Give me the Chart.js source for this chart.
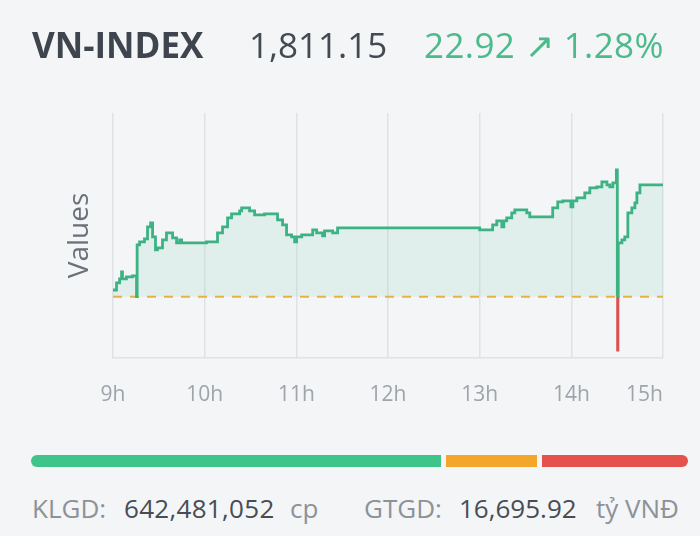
<!DOCTYPE html>
<html>
<head>
<meta charset="utf-8">
<script src="https://cdn.jsdelivr.net/npm/chart.js@4.4.1/dist/chart.umd.min.js"></script>
<style>
  html, body { margin: 0; padding: 0; }
  body { width: 700px; height: 536px; background: #f3f5f7; position: relative; overflow: hidden; font-family: "Open Sans", sans-serif; }
  #chart-wrap { position: absolute; left: 0; top: 0; width: 700px; height: 420px; }
  .t { position: absolute; white-space: nowrap; }
  .head { top: 20px; font-size: 35px; line-height: 50px; }
  .foot { top: 489px; font-size: 26px; line-height: 38px; }
  .gray { color: #8c9298; }
  .dark { color: #474d55; }
  #bar { position: absolute; left: 31px; top: 455px; width: 657px; height: 12px; display: flex; gap: 5px; }
  #bar div { height: 100%; }
</style>
</head>
<body>
<div id="chart-wrap"><canvas id="chart-1"></canvas></div>

<div class="t head" id="name" style="left:32px; font-weight:700; color:#3f454e;">VN-INDEX</div>
<div class="t head" id="last" style="left:249px; color:#444a53;"></div>
<div class="t head" id="chg" style="left:424px; color:#4dba8b; letter-spacing:0.4px;"></div>

<div id="bar"></div>

<div class="t foot gray" style="left:32px;">KLGD:</div>
<div class="t foot dark" id="vol" style="left:124px; letter-spacing:0.3px;"></div>
<div class="t foot gray" style="left:290px;">cp</div>
<div class="t foot gray" style="left:364px;">GTGD:</div>
<div class="t foot dark" id="val" style="left:459px;"></div>
<div class="t foot gray" style="left:596px;">tỷ VNĐ</div>

<script>
// minutes after 9:00
const minutes = [0, 2.3, 4.3, 5.6, 6.2, 8.8, 12.8, 15.4, 15.8, 17.4,
  20.6, 22.6, 24.6, 25.9, 27.8, 29.1, 32.4, 35.0, 39.0, 41.6,
  43.6, 44.9, 61.2, 68.4, 71.7, 75.0, 77.6, 82.9, 84.2, 89.4,
  92.7, 99.2, 107.7, 111.0, 113.6, 116.9, 118.9, 120.2, 123.5, 130.7,
  133.3, 137.2, 138.5, 143.8, 147.0, 240, 248.5, 251.2, 254.5, 255.8,
  257.7, 261.0, 263.0, 270.8, 272.8, 287.8, 291.1, 294.4, 299.7, 301.0,
  303.6, 308.8, 312.1, 316.7, 320.0, 323.3, 325.2, 327.2, 329.5, 330.1,
  330.3, 330.5, 330.7, 333.1, 335.0, 337.0, 339.6, 341.6, 342.9, 344.9, 360];
const values = [1789.60, 1791.04, 1791.86, 1793.30, 1791.86, 1792.27, 1792.48, 1788.23, 1798.84, 1799.45,
  1800.07, 1802.53, 1803.35, 1800.48, 1797.81, 1798.22, 1799.86, 1801.30, 1800.28, 1799.25,
  1799.86, 1799.25, 1799.45, 1801.30, 1802.53, 1804.38, 1805.20, 1805.82, 1806.43, 1805.82,
  1804.99, 1805.20, 1803.97, 1802.94, 1800.89, 1800.48, 1799.45, 1800.48, 1800.89, 1801.92,
  1801.30, 1800.69, 1801.71, 1801.30, 1802.33, 1801.92, 1802.94, 1803.76, 1802.53, 1803.76,
  1804.38, 1805.41, 1806.02, 1805.41, 1804.58, 1806.43, 1807.66, 1807.87, 1806.64, 1807.87,
  1808.48, 1809.51, 1810.54, 1810.74, 1811.77, 1811.15, 1810.74, 1811.56, 1814.23, 1788.23,
  1777.29, 1788.23, 1799.25, 1799.86, 1800.48, 1805.41, 1806.43, 1807.46, 1809.51, 1811.15, 1811.15];
const hourLabels = ['9h', '10h', '11h', '12h', '13h', '14h', '15h'];
const prevClose = 1788.23;
const lastIndex = 1811.15;
const change = 22.92;
const changePct = 1.28;
const volume = 642481052;
const turnover = 16695.92;
const breadth = [255, 56, 91]; // up, unchanged, down

const green = '#3db383';
const red = '#d9534f';

const fmt2 = n => n.toLocaleString('en-US', { minimumFractionDigits: 2, maximumFractionDigits: 2 });
document.getElementById('last').textContent = fmt2(lastIndex);
document.getElementById('chg').textContent = fmt2(change) + ' \u2197 ' + fmt2(changePct) + '%';
document.getElementById('vol').textContent = volume.toLocaleString('en-US');
document.getElementById('val').textContent = fmt2(turnover);

const barColors = ['#3fc48a', '#f4a62a', '#e4524b'];
const bar = document.getElementById('bar');
breadth.forEach((b, i) => {
  const d = document.createElement('div');
  d.style.flex = b + ' 1 0';
  d.style.background = barColors[i];
  if (i === 0) d.style.borderRadius = '6px 0 0 6px';
  if (i === breadth.length - 1) d.style.borderRadius = '0 6px 6px 0';
  bar.appendChild(d);
});

// last hour label sits right-aligned on the plot edge, as in the original widget
const lastTickRight = {
  id: 'lastTickRight',
  beforeDraw(chart) {
    const items = chart.scales.x.getLabelItems();
    const last = items[items.length - 1];
    if (last) {
      last.options.textAlign = 'right';
      last.options.translation[0] = chart.chartArea.right;
    }
  }
};

const ctx = document.getElementById('chart-1');

new Chart(ctx, {
  type: 'line',
  data: {
    datasets: [{
      label: 'VN-INDEX',
      data: minutes.map((m, i) => ({ x: m, y: values[i] })),
      stepped: true,
      borderWidth: 2.8,
      borderColor: green,
      pointRadius: 0,
      fill: { target: { value: prevClose }, above: 'rgba(70,195,145,0.11)', below: 'rgba(220,80,80,0.08)' },
      segment: {
        borderColor: c => (c.p0.parsed.y < prevClose - 0.01 || c.p1.parsed.y < prevClose - 0.01) ? red : green
      },
      order: 1
    }, {
      label: 'Ref',
      data: [{ x: minutes[0], y: prevClose }, { x: minutes[minutes.length - 1], y: prevClose }],
      borderColor: '#f0b43c',
      borderWidth: 2,
      borderDash: [9, 8],
      pointRadius: 0,
      fill: false,
      order: 2
    }]
  },
  options: {
    responsive: true,
    maintainAspectRatio: false,
    animation: false,
    layout: { padding: { top: 113, right: 37, left: 0, bottom: 0 } },
    plugins: { legend: { display: false }, tooltip: { enabled: false } },
    scales: {
      x: {
        type: 'linear',
        min: 0,
        max: 360,
        afterFit: s => { s.height = 62; s.paddingLeft = 0; s.paddingRight = 0; },
        ticks: {
          stepSize: 60,
          padding: 24,
          color: '#9fa4aa',
          font: { family: 'Open Sans', size: 21 },
          callback: (v, i) => hourLabels[i]
        },
        grid: { color: '#dfe3e7', lineWidth: 1.5, drawTicks: false },
        border: { color: '#dfe3e7', width: 1.5 }
      },
      y: {
        min: 1775.65,
        max: 1825.9,
        afterFit: s => { s.width = 113; },
        ticks: { display: false },
        grid: { display: false, drawTicks: false },
        border: { display: false },
        title: {
          display: true,
          text: 'Values',
          color: '#6b7178',
          font: { family: 'Open Sans', size: 28 },
          padding: { top: 63 }
        }
      }
    }
  },
  plugins: [lastTickRight]
});
</script>
</body>
</html>
